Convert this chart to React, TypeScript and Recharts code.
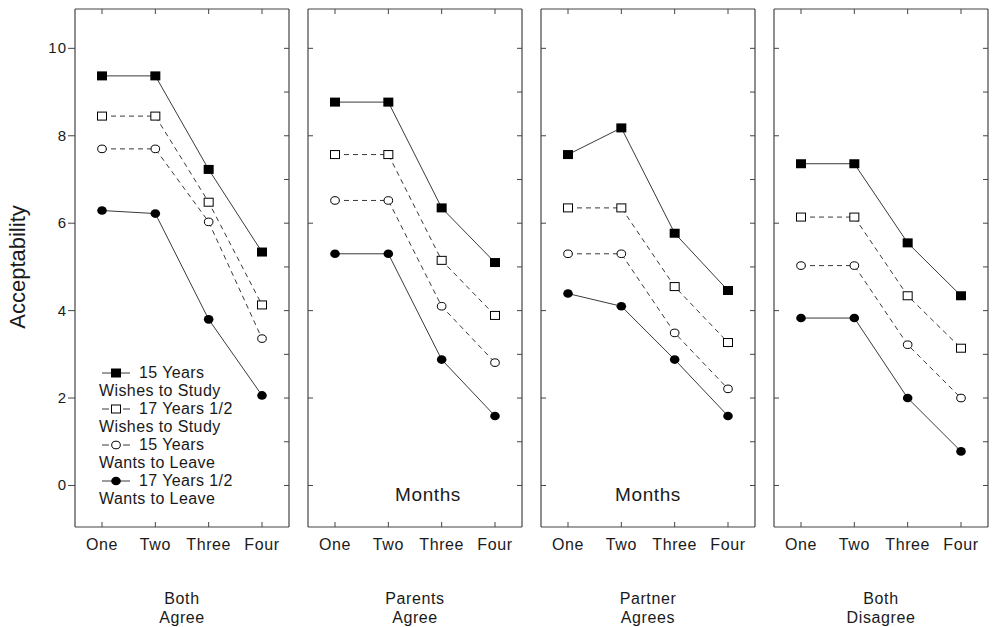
import React from 'react'
import { LineChart, Line, XAxis, YAxis, Legend, Customized } from 'recharts'

// Acceptability ratings by month, one row per panel (Both Agree, Parents Agree, Partner Agrees, Both Disagree)
const months = ['One', 'Two', 'Three', 'Four']
const panelTitles = [
  ['Both', 'Agree'],
  ['Parents', 'Agree'],
  ['Partner', 'Agrees'],
  ['Both', 'Disagree'],
]
const fifteenStudy = [
  [9.37, 9.37, 7.23, 5.34],
  [8.77, 8.77, 6.35, 5.1],
  [7.57, 8.18, 5.77, 4.46],
  [7.36, 7.36, 5.55, 4.34],
]
const seventeenStudy = [
  [8.45, 8.45, 6.48, 4.13],
  [7.57, 7.57, 5.15, 3.89],
  [6.35, 6.35, 4.55, 3.27],
  [6.14, 6.14, 4.34, 3.14],
]
const fifteenLeave = [
  [7.7, 7.7, 6.03, 3.36],
  [6.52, 6.52, 4.1, 2.81],
  [5.3, 5.3, 3.49, 2.21],
  [5.03, 5.03, 3.22, 2.0],
]
const seventeenLeave = [
  [6.29, 6.22, 3.8, 2.06],
  [5.3, 5.3, 2.88, 1.59],
  [4.39, 4.1, 2.88, 1.59],
  [3.83, 3.83, 2.0, 0.78],
]
const majorTicks = [0, 2, 4, 6, 8, 10]
const minorTicks = [0, 1, 2, 3, 4, 5, 6, 7, 8, 9, 10]

type Shape = 'filledSquare' | 'openSquare' | 'openCircle' | 'filledCircle'

const series: { key: string; age: string; wish: string; shape: Shape; dashed: boolean; values: number[][] }[] = [
  { key: 'fifteenStudy', age: '15 Years', wish: 'Wishes to Study', shape: 'filledSquare', dashed: false, values: fifteenStudy },
  { key: 'seventeenStudy', age: '17 Years 1/2', wish: 'Wishes to Study', shape: 'openSquare', dashed: true, values: seventeenStudy },
  { key: 'fifteenLeave', age: '15 Years', wish: 'Wants to Leave', shape: 'openCircle', dashed: true, values: fifteenLeave },
  { key: 'seventeenLeave', age: '17 Years 1/2', wish: 'Wants to Leave', shape: 'filledCircle', dashed: false, values: seventeenLeave },
]

const INK = '#1a1a1a'
const AXIS = '#444'
const LINE = '#3a3a3a'
const FONT = '"Liberation Sans", Arial, sans-serif'

const PANEL_W = 214
const PANEL_STEP = 233
const FIRST_LEFT = 75
const TICK = 5

function Marker({ cx, cy, shape }: { cx: number; cy: number; shape: Shape }) {
  if (cx == null || cy == null) return null
  switch (shape) {
    case 'filledSquare':
      return <rect x={cx - 5} y={cy - 4.5} width={10} height={9} fill="#000" />
    case 'openSquare':
      return <rect x={cx - 4.5} y={cy - 4} width={9} height={8} fill="#fff" stroke="#000" strokeWidth={1} />
    case 'openCircle':
      return <ellipse cx={cx} cy={cy} rx={4.3} ry={3.8} fill="#fff" stroke="#000" strokeWidth={1} />
    default:
      return <ellipse cx={cx} cy={cy} rx={4.8} ry={4.3} fill="#000" />
  }
}

const BottomTick = (p: any) => (
  <g>
    <line x1={p.x} y1={p.y} x2={p.x} y2={p.y - TICK} stroke={AXIS} />
    <text x={p.x} y={p.y + 23} textAnchor="middle" fontSize={16} fill={INK} letterSpacing={0.6}>
      {p.payload.value}
    </text>
  </g>
)

const TopTick = (p: any) => <line x1={p.x} y1={p.y} x2={p.x} y2={p.y + TICK} stroke={AXIS} />

const RightTick = (p: any) => <line x1={p.x} y1={p.y} x2={p.x - TICK} y2={p.y} stroke={AXIS} />

const LabelledLeftTick = (p: any) => (
  <g>
    <line x1={p.x} y1={p.y} x2={p.x - 7} y2={p.y} stroke={AXIS} />
    <text x={p.x - 8} y={p.y + 5} textAnchor="end" fontSize={15} fill={INK} letterSpacing={1}>
      {p.payload.value}
    </text>
  </g>
)

const InnerLeftTick = (p: any) => <line x1={p.x} y1={p.y} x2={p.x + TICK} y2={p.y} stroke={AXIS} />

function LegendBox() {
  return (
    <div style={{ fontSize: 16, lineHeight: '18px', color: INK, letterSpacing: 0.4, whiteSpace: 'nowrap' }}>
      {series.map((s) => (
        <React.Fragment key={s.key}>
          <div style={{ display: 'flex', alignItems: 'center', height: 18 }}>
            <svg width={32} height={18}>
              {s.dashed ? (
                <>
                  <line x1={3} y1={9} x2={10} y2={9} stroke={LINE} />
                  <line x1={24} y1={9} x2={31} y2={9} stroke={LINE} />
                </>
              ) : (
                <line x1={3} y1={9} x2={31} y2={9} stroke={LINE} />
              )}
              <Marker cx={17} cy={9} shape={s.shape} />
            </svg>
            <span style={{ marginLeft: 8 }}>{s.age}</span>
          </div>
          <div style={{ height: 18 }}>{s.wish}</div>
        </React.Fragment>
      ))}
    </div>
  )
}

function Panel({ index }: { index: number }) {
  const first = index === 0
  const leftSpace = first ? FIRST_LEFT : 10
  const rightSpace = 4
  const panelLeft = FIRST_LEFT + index * PANEL_STEP
  const data = months.map((m, i) => {
    const row: Record<string, string | number> = { month: m }
    series.forEach((s) => {
      row[s.key] = s.values[index][i]
    })
    return row
  })
  const title = panelTitles[index]

  return (
    <div style={{ position: 'absolute', left: panelLeft - leftSpace, top: 0 }}>
      <LineChart
        width={PANEL_W + leftSpace + rightSpace}
        height={627}
        data={data}
        margin={{ top: 0, right: 0, bottom: 0, left: 0 }}
      >
        <XAxis
          xAxisId="bottom"
          dataKey="month"
          orientation="bottom"
          height={100}
          padding={{ left: 27, right: 27 }}
          axisLine={{ stroke: AXIS, strokeWidth: 1.2 }}
          tickLine={false}
          tickSize={0}
          tickMargin={0}
          tick={BottomTick}
          interval={0}
          label={{
            content: (props: any) => {
              const vb = props.viewBox
              const cx = vb.x + vb.width / 2
              return (
                <text textAnchor="middle" fontSize={16} fill={INK} letterSpacing={0.6}>
                  <tspan x={cx} y={vb.y + 77}>{title[0]}</tspan>
                  <tspan x={cx} y={vb.y + 96}>{title[1]}</tspan>
                </text>
              )
            },
          }}
        />
        <XAxis
          xAxisId="top"
          dataKey="month"
          orientation="top"
          height={9}
          padding={{ left: 27, right: 27 }}
          axisLine={{ stroke: AXIS, strokeWidth: 1.2 }}
          tickLine={false}
          tickSize={0}
          tickMargin={0}
          tick={TopTick}
          interval={0}
        />
        <YAxis
          yAxisId="left"
          orientation="left"
          type="number"
          width={leftSpace}
          domain={[-0.95, 10.9]}
          allowDataOverflow
          ticks={majorTicks}
          axisLine={{ stroke: AXIS, strokeWidth: 1.2 }}
          tickLine={false}
          tickSize={0}
          tickMargin={0}
          tick={first ? LabelledLeftTick : InnerLeftTick}
          interval={0}
          label={
            first
              ? {
                  content: () => (
                    <text
                      x={25}
                      y={267}
                      transform="rotate(-90 25 267)"
                      textAnchor="middle"
                      fontSize={22}
                      fill={INK}
                    >
                      Acceptability
                    </text>
                  ),
                }
              : undefined
          }
        />
        <YAxis
          yAxisId="right"
          orientation="right"
          type="number"
          width={rightSpace}
          domain={[-0.95, 10.9]}
          allowDataOverflow
          ticks={minorTicks}
          axisLine={{ stroke: AXIS, strokeWidth: 1.2 }}
          tickLine={false}
          tickSize={0}
          tickMargin={0}
          tick={RightTick}
          interval={0}
        />
        {series.map((s) => (
          <Line
            key={s.key}
            xAxisId="bottom"
            yAxisId="left"
            type="linear"
            dataKey={s.key}
            name={`${s.age} ${s.wish}`}
            stroke={LINE}
            strokeWidth={1}
            strokeDasharray={s.dashed ? '5 4' : undefined}
            dot={(props: any) => (
              <Marker key={`${s.key}-${props.index}`} cx={props.cx} cy={props.cy} shape={s.shape} />
            )}
            activeDot={false}
            isAnimationActive={false}
          />
        ))}
        {(index === 1 || index === 2) && (
          <Customized
            component={() => (
              <text
                x={leftSpace + (index === 1 ? 120 : 107)}
                y={501}
                textAnchor="middle"
                fontSize={19}
                fill={INK}
                letterSpacing={0.6}
              >
                Months
              </text>
            )}
          />
        )}
        {first && (
          <Legend
            layout="vertical"
            align="center"
            verticalAlign="middle"
            content={LegendBox}
            wrapperStyle={{ position: 'absolute', left: 99, top: 364, width: 190 }}
          />
        )}
      </LineChart>
    </div>
  )
}

export default function App() {
  return (
    <div
      style={{
        position: 'absolute',
        left: 0,
        top: 0,
        width: 992,
        height: 627,
        background: '#fff',
        fontFamily: FONT,
        overflow: 'hidden',
      }}
    >
      {panelTitles.map((_, i) => (
        <Panel key={i} index={i} />
      ))}
    </div>
  )
}
